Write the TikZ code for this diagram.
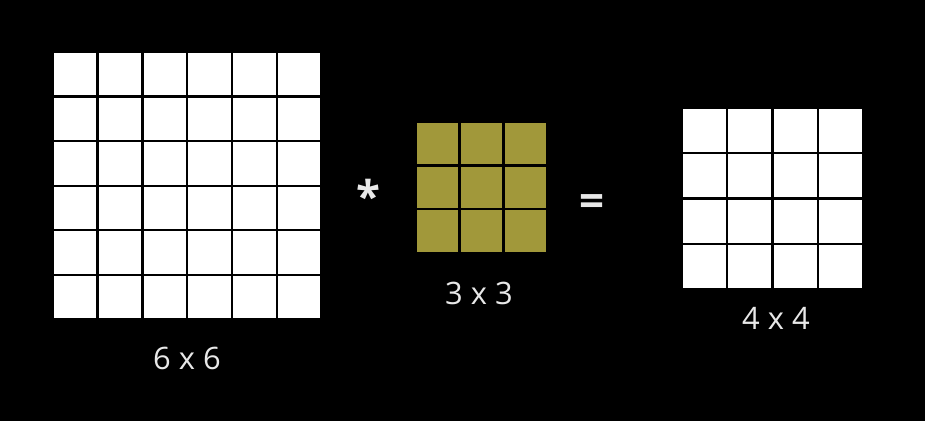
\documentclass[tikz,border=0pt]{standalone}
\usepackage{fontspec}
\setmainfont{Open Sans}
\usepackage{tikz}
\usetikzlibrary{positioning}
\definecolor{kernelolive}{RGB}{161,152,58}
\definecolor{labelgrey}{RGB}{232,232,232}

\begin{document}
\begin{tikzpicture}
    [
    x=1bp, y=-1bp,
    cell/.style={rectangle,inner sep=0pt,fill=white},
    incell/.style={cell,minimum size=42.3bp},
    kcell/.style={cell,fill=kernelolive,minimum size=41.3bp},
    outcell/.style={cell,minimum size=42.9bp},
    size/.style={text=labelgrey,font=\fontsize{31}{36}\selectfont},
    op/.style={text=labelgrey,font=\fontsize{44}{50}\selectfont\bfseries,inner sep=0pt,anchor=base},
    ]
    \fill [black] (0,0) rectangle (925,421);

    % input 6 x 6
    \foreach \i in {0,...,5}
      \foreach \j in {0,...,5}
        \node (in-\i-\j) at ({54+21.15+44.8*\i},{53+21.15+44.6*\j}) [incell] {};
    % kernel 3 x 3
    \foreach \i in {0,...,2}
      \foreach \j in {0,...,2}
        \node (k-\i-\j) at ({417+20.65+43.8*\i},{123+20.65+43.6*\j}) [kcell] {};
    % output 4 x 4
    \foreach \i in {0,...,3}
      \foreach \j in {0,...,3}
        \node (out-\i-\j) at ({683+21.45+45.4*\i},{109+21.45+45.4*\j}) [outcell] {};

    \node (insize) at (187,358) [size] {6 x 6};
    \node (ksize) at (479,293) [size] {3 x 3};
    \node (outsize) at (776,318) [size] {4 x 4};

    \node (star) at (368,212) [op] {*};
    \node (eq) at (592,216) [op] {=};
  \end{tikzpicture}
\end{document}
